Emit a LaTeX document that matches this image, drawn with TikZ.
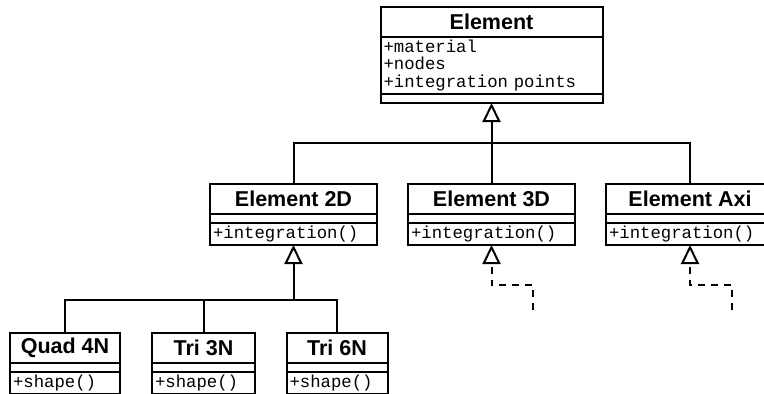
\documentclass[tikz,border=0pt]{standalone}
\usepackage{fontspec}
\usetikzlibrary{arrows.meta,positioning}
\newfontfamily\headfont{Liberation Sans}
\newfontfamily\codefont{Liberation Mono}

\tikzset{
  classname/.style={draw, line width=2pt, outer sep=0pt, inner sep=0pt, minimum height=30pt,
    font=\headfont\bfseries\fontsize{21.5}{24}\selectfont},
  classpart/.style={draw, line width=2pt, outer sep=0pt, inner xsep=3pt, inner ysep=0pt,
    align=left, font=\codefont\fontsize{17.3}{17.5}\selectfont},
  link/.style={line width=2pt},
  inherit/.style={link, -{Triangle[open, width=18pt, length=19pt]}},
  realize/.style={inherit, dash pattern=on 7pt off 6pt},
}

\begin{document}
\begin{tikzpicture}[x=1pt, y=-1pt]
  \useasboundingbox (0,0) rectangle (764,394);
  \clip (0,0) rectangle (764,394);

  % base class
  \node[classname, minimum width=222pt] (elem-t) at (491.5,22) {Element};
  \node[classpart, below=0pt of elem-t, text width=216pt, minimum height=57pt] (elem-a)
    {+material\\+nodes\\+integration points};
  \node[classpart, below=0pt of elem-a, minimum width=222pt, minimum height=9pt] (elem-o) {};

  % second level
  \node[classname, minimum width=167pt] (e2d-t) at (293.5,198.5) {Element 2D};
  \node[classpart, below=0pt of e2d-t, minimum width=167pt, minimum height=9pt] (e2d-a) {};
  \node[classpart, below=0pt of e2d-a, text width=161pt, minimum height=22.5pt] (e2d-o) {+integration()};

  \node[classname, minimum width=167pt] (e3d-t) at (491.5,198.5) {Element 3D};
  \node[classpart, below=0pt of e3d-t, minimum width=167pt, minimum height=9pt] (e3d-a) {};
  \node[classpart, below=0pt of e3d-a, text width=161pt, minimum height=22.5pt] (e3d-o) {+integration()};

  \node[classname, minimum width=168pt] (eaxi-t) at (690,198.5) {Element Axi};
  \node[classpart, below=0pt of eaxi-t, minimum width=168pt, minimum height=9pt] (eaxi-a) {};
  \node[classpart, below=0pt of eaxi-a, text width=162pt, minimum height=22.5pt] (eaxi-o) {+integration()};

  % third level
  \node[classname, minimum width=110pt] (quad-t) at (65,348) {Quad 4N};
  \node[classpart, below=0pt of quad-t, minimum width=110pt, minimum height=9pt] (quad-a) {};
  \node[classpart, below=0pt of quad-a, text width=104pt, minimum height=22pt] (quad-o) {+shape()};

  \node[classname, minimum width=103pt] (tri3-t) at (203.5,348) {Tri 3N};
  \node[classpart, below=0pt of tri3-t, minimum width=103pt, minimum height=9pt] (tri3-a) {};
  \node[classpart, below=0pt of tri3-a, text width=97pt, minimum height=22pt] (tri3-o) {+shape()};

  \node[classname, minimum width=101pt] (tri6-t) at (337,348) {Tri 6N};
  \node[classpart, below=0pt of tri6-t, minimum width=101pt, minimum height=9pt] (tri6-a) {};
  \node[classpart, below=0pt of tri6-a, text width=95pt, minimum height=22pt] (tri6-o) {+shape()};

  % generalisation
  \coordinate (topbus) at (491.5,143);
  \coordinate (lowbus) at (293.5,300);
  \draw[link] (e2d-t.north) |- (topbus) -| (eaxi-t.north);
  \draw[inherit] (e3d-t.north) -- (elem-o.south);
  \draw[link] (quad-t.north) |- (lowbus) -| (tri6-t.north);
  \draw[link] (tri3-t.north) -- (tri3-t.north |- lowbus);
  \draw[inherit] (lowbus) -- (e2d-o.south);

  % further subclasses, not shown
  \coordinate (r3d) at (533,310);
  \coordinate (raxi) at (732,310);
  \draw[realize] (r3d) -- ++(0,-25) -| (e3d-o.south);
  \draw[realize] (raxi) -- ++(0,-25) -| (eaxi-o.south);
\end{tikzpicture}
\end{document}
